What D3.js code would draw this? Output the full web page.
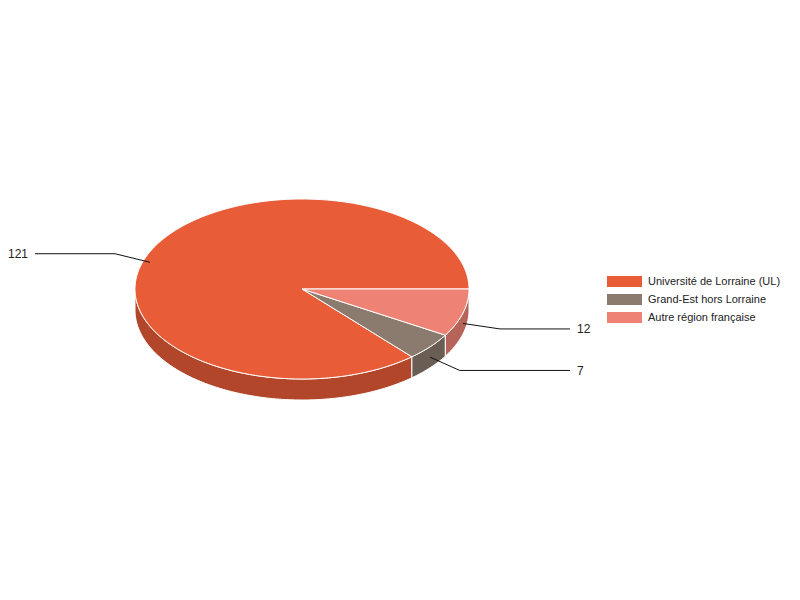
<!DOCTYPE html>
<html>
<head>
<meta charset="utf-8">
<script src="https://cdn.jsdelivr.net/npm/d3@7"></script>
<style>
  body { margin: 0; background: #fff; }
  svg { font-family: "Liberation Sans", Arial, sans-serif; }
</style>
</head>
<body>
<svg class="pie3d"></svg>
<script>
// data
const categories = ["Université de Lorraine (UL)", "Grand-Est hors Lorraine", "Autre région française"];
const values = [121, 7, 12];
const colors = ["#e95c38", "#8b7a6e", "#ee8275"];

const styles = {
  width: 800,
  height: 600,
  cx: 302,
  cy: 289,
  rx: 167,
  ry: 90,
  depth: 21
};

const svg = d3.select('.pie3d')
  .attr('width', styles.width)
  .attr('height', styles.height)
  .attr('viewBox', [0, 0, styles.width, styles.height]);

// pie from 3 o'clock, counter-clockwise
const pie = d3.pie()
  .sort(null)
  .value(d => d.value)
  .startAngle(Math.PI / 2)
  .endAngle(Math.PI / 2 - 2 * Math.PI);

const rows = categories.map((c, i) => ({ name: c, value: values[i], color: colors[i] }));
const arcs = pie(rows);

// point on the ellipse, d3 angle convention (0 = top, clockwise)
const pt = (a, k = 1, dy = 0) => [
  styles.cx + styles.rx * k * Math.sin(a),
  styles.cy - styles.ry * k * Math.cos(a) + dy
];

const line = d3.line();

function arcPoints(a0, a1, dy) {
  const n = Math.max(2, Math.ceil(Math.abs(a1 - a0) / 0.02));
  return d3.range(n + 1).map(i => pt(a0 + (a1 - a0) * i / n, 1, dy));
}

// side walls (front half only)
const walls = svg.append('g');
arcs.forEach(d => {
  const lo = Math.min(d.startAngle, d.endAngle);
  const hi = Math.max(d.startAngle, d.endAngle);
  [-1, 0, 1].forEach(k => {
    const w0 = Math.PI / 2 + 2 * Math.PI * k;
    const w1 = 3 * Math.PI / 2 + 2 * Math.PI * k;
    const s = Math.max(lo, w0), e = Math.min(hi, w1);
    if (e - s < 1e-3) return;
    const pts = arcPoints(s, e, 0).concat(arcPoints(e, s, styles.depth));
    walls.append('path')
      .attr('d', line(pts) + 'Z')
      .attr('fill', d3.color(d.data.color).darker(0.75))
      .attr('stroke', '#fff')
      .attr('stroke-width', 1)
      .attr('stroke-linejoin', 'round');
  });
});

// top faces
svg.append('g')
  .selectAll('path')
  .data(arcs)
  .join('path')
  .attr('d', d => {
    const pts = [[styles.cx, styles.cy]].concat(arcPoints(d.startAngle, d.endAngle, 0));
    return line(pts) + 'Z';
  })
  .attr('fill', d => d.data.color)
  .attr('stroke', '#fff')
  .attr('stroke-width', 1)
  .attr('stroke-linejoin', 'round');

// labels with leader lines
const labels = svg.append('g');
arcs.forEach(d => {
  const mid = (d.startAngle + d.endAngle) / 2;
  const right = Math.sin(mid) > 0;
  const p0 = pt(mid, 1, styles.depth / 2);
  const p1 = pt(mid, 1.23, styles.depth / 2);
  const p2 = [styles.cx + (right ? 268 : -267), p1[1]];
  labels.append('path')
    .attr('d', line([p0, p1, p2]))
    .attr('fill', 'none')
    .attr('stroke', '#111')
    .attr('stroke-width', 1);
  labels.append('text')
    .attr('x', p2[0] + (right ? 7 : -7))
    .attr('y', p2[1])
    .attr('dy', '0.35em')
    .attr('text-anchor', right ? 'start' : 'end')
    .attr('font-size', 12)
    .attr('fill', '#222')
    .text(d.data.value);
});

// legend
const legend = svg.append('g')
  .attr('transform', 'translate(607,276)')
  .selectAll('g')
  .data(rows)
  .join('g')
  .attr('transform', (d, i) => `translate(0,${i * 18})`);

legend.append('rect')
  .attr('width', 35)
  .attr('height', 11)
  .attr('fill', d => d.color);

legend.append('text')
  .attr('x', 41)
  .attr('y', 5.5)
  .attr('dy', '0.35em')
  .attr('font-size', 11)
  .attr('fill', '#222')
  .text(d => d.name);
</script>
</body>
</html>
